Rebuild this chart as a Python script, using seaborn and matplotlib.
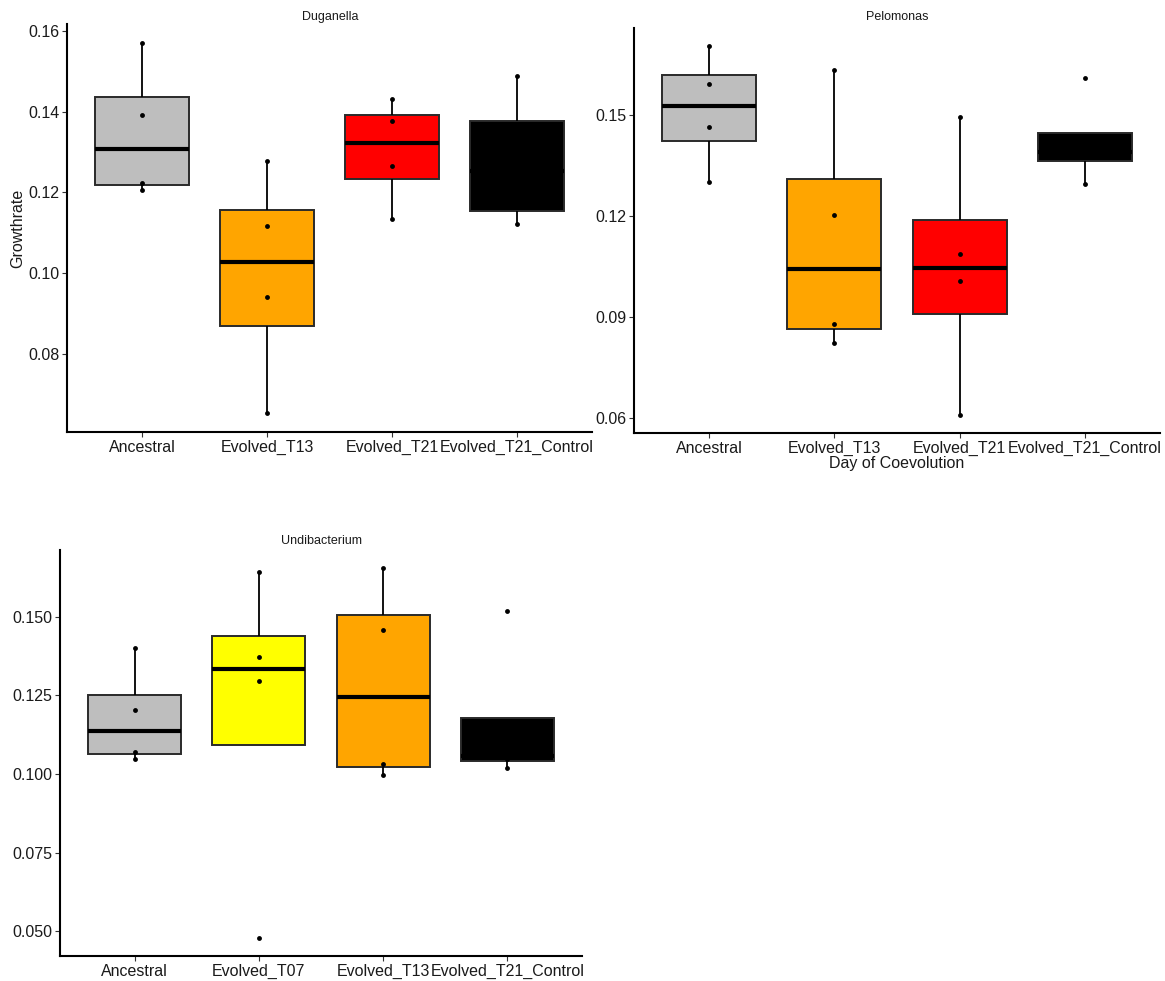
import numpy as np
import pandas as pd
import matplotlib
matplotlib.use("Agg")
import matplotlib.pyplot as plt
import seaborn as sns

# ---------------- data ----------------
dug_groups = ["Ancestral", "Evolved_T13", "Evolved_T21", "Evolved_T21_Control"]
dug_ancestral = [0.1571, 0.1392, 0.1223, 0.1205]
dug_t13 = [0.1279, 0.1116, 0.0941, 0.0653]
dug_t21 = [0.1432, 0.1378, 0.1265, 0.1135]
dug_control = [0.1488, 0.1341, 0.1165, 0.1121]

pel_groups = ["Ancestral", "Evolved_T13", "Evolved_T21", "Evolved_T21_Control"]
pel_ancestral = [0.1703, 0.1591, 0.1463, 0.1301]
pel_t13 = [0.1632, 0.1203, 0.0880, 0.0823]
pel_t21 = [0.1494, 0.1087, 0.1007, 0.0611]
pel_control = [0.1609, 0.1393, 0.1384, 0.1296]

und_groups = ["Ancestral", "Evolved_T07", "Evolved_T13", "Evolved_T21_Control"]
und_ancestral = [0.1400, 0.1202, 0.1069, 0.1047]
und_t07 = [0.1641, 0.1372, 0.1295, 0.0480]
und_t13 = [0.1653, 0.1456, 0.1031, 0.0996]
und_control = [0.1518, 0.1063, 0.1049, 0.1020]

dug_ticks = [0.08, 0.10, 0.12, 0.14, 0.16]
dug_ticklabels = ["0.08", "0.10", "0.12", "0.14", "0.16"]
pel_ticks = [0.06, 0.09, 0.12, 0.15]
pel_ticklabels = ["0.06", "0.09", "0.12", "0.15"]
und_ticks = [0.050, 0.075, 0.100, 0.125, 0.150]
und_ticklabels = ["0.050", "0.075", "0.100", "0.125", "0.150"]

colors = {
    "Ancestral": "#BEBEBE",
    "Evolved_T07": "#FFFF00",
    "Evolved_T13": "#FFA500",
    "Evolved_T21": "#FF0000",
    "Evolved_T21_Control": "#000000",
}

# ---------------- style ----------------
sns.set_theme(style="white")
plt.rcParams["font.family"] = ["Liberation Sans", "DejaVu Sans"]

fig = plt.figure(figsize=(11.65, 9.81), dpi=100)
W, H = 1165, 981


def px_axes(l, t, r, b):
    return fig.add_axes([l / W, 1 - b / H, (r - l) / W, (b - t) / H])


def make_df(groups, arrays):
    rows = []
    for g, arr in zip(groups, arrays):
        for v in arr:
            rows.append({"group": g, "value": v})
    return pd.DataFrame(rows)


def panel(ax, groups, arrays, title, ticks, ticklabels, title_xy):
    df = make_df(groups, arrays)
    pal = {g: colors[g] for g in groups}
    sns.boxplot(
        data=df, x="group", y="value", hue="group", order=groups,
        hue_order=groups, palette=pal, width=0.75, showfliers=False,
        showcaps=False, linecolor="#2a2a2a", linewidth=1.4, dodge=False,
        legend=False, saturation=1, ax=ax,
        medianprops=dict(color="black", linewidth=3.0),
        whiskerprops=dict(color="black", linewidth=1.3),
    )
    sns.stripplot(
        data=df, x="group", y="value", order=groups, jitter=False,
        color="black", size=3.5, ax=ax, zorder=5,
    )
    vals = df["value"].values
    rng = vals.max() - vals.min()
    ax.set_ylim(vals.min() - 0.05 * rng, vals.max() + 0.05 * rng)
    ax.set_xlim(-0.6, len(groups) - 0.4)
    ax.set_yticks(ticks)
    ax.set_yticklabels(ticklabels)
    fig.text(title_xy[0] / W, 1 - title_xy[1] / H, title, fontsize=9,
             color="#1a1a1a", ha="center", va="center")
    ax.set_xlabel("")
    ax.set_ylabel("")
    for s in ["top", "right"]:
        ax.spines[s].set_visible(False)
    for s in ["left", "bottom"]:
        ax.spines[s].set_color("black")
        ax.spines[s].set_linewidth(1.5)
    ax.tick_params(axis="both", which="major", length=3.5, width=0.8,
                   color="#333333", labelsize=11.5, labelcolor="#1a1a1a",
                   left=True, bottom=True, pad=2)
    ax.grid(False)
    ax.set_facecolor("white")


ax1 = px_axes(67, 24, 592, 432)
panel(ax1, dug_groups, [dug_ancestral, dug_t13, dug_t21, dug_control],
      "Duganella", dug_ticks, dug_ticklabels, (330, 17))
ax1.set_ylabel("Growthrate", fontsize=11.5, color="#1a1a1a", labelpad=2)

ax2 = px_axes(634, 28, 1160, 433)
panel(ax2, pel_groups, [pel_ancestral, pel_t13, pel_t21, pel_control],
      "Pelomonas", pel_ticks, pel_ticklabels, (897, 17))
ax2.set_xlabel("Day of Coevolution", fontsize=11.5, color="#1a1a1a", labelpad=0)

ax3 = px_axes(60, 550, 582, 956)
panel(ax3, und_groups, [und_ancestral, und_t07, und_t13, und_control],
      "Undibacterium", und_ticks, und_ticklabels, (321, 541))

fig.savefig("out.png", dpi=100, facecolor="white")
